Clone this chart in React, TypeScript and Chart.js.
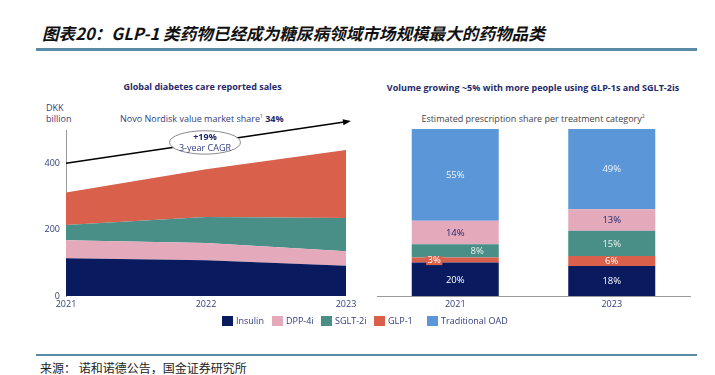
import React, { useEffect, useRef } from 'react';
import { Chart, registerables } from 'chart.js';

Chart.register(...registerables);

// ---------- data ----------
const years = ['2021', '2022', '2023'];
const insulinSales = [114, 108, 91];
const dpp4Sales = [54, 52, 44];
const sglt2Sales = [46, 78, 100];
const glp1Sales = [98, 144, 205];
const trendLine = [400, 462, 525];
const salesTicks = [0, 200, 400];

const shareYears = ['2021', '2023'];
const insulinShare = [20, 18];
const glp1Share = [3, 6];
const sglt2Share = [8, 15];
const dpp4Share = [14, 13];
const oadShare = [55, 49];

const legendNames = ['Insulin', 'DPP-4i', 'SGLT-2i', 'GLP-1', 'Traditional OAD'];

// ---------- styles ----------
const NAVY = '#0a1a5e';
const PINK = '#e5a9bc';
const TEAL = '#4a8f87';
const ORANGE = '#d9614b';
const BLUE = '#5b97d8';
const TEXT_NAVY = '#34407f';
const FONT = '"Open Sans", "Noto Sans", sans-serif';
const legendColors = [NAVY, PINK, TEAL, ORANGE, BLUE];
const legendLefts = [222, 272, 321, 374, 427];

const trendDecor = {
  id: 'trendDecor',
  afterDatasetsDraw(chart: any) {
    const pts = chart.getDatasetMeta(0).data;
    if (!pts || pts.length < 2) return;
    const ctx = chart.ctx;
    const a = pts[pts.length - 2];
    const b = pts[pts.length - 1];
    const ang = Math.atan2(b.y - a.y, b.x - a.x);
    ctx.save();
    ctx.fillStyle = '#000';
    ctx.translate(b.x + 1, b.y);
    ctx.rotate(ang);
    ctx.beginPath();
    ctx.moveTo(4, 0);
    ctx.lineTo(-4, -3);
    ctx.lineTo(-4, 3);
    ctx.closePath();
    ctx.fill();
    ctx.restore();

    const f = pts[0];
    const cx = (f.x + b.x) / 2 - 1;
    const cy = (f.y + b.y) / 2;
    ctx.save();
    ctx.beginPath();
    ctx.ellipse(cx, cy, 35.5, 11.7, 0, 0, Math.PI * 2);
    ctx.fillStyle = '#fff';
    ctx.fill();
    ctx.strokeStyle = '#8a8a8a';
    ctx.lineWidth = 1;
    ctx.stroke();
    ctx.textAlign = 'center';
    ctx.textBaseline = 'middle';
    ctx.fillStyle = '#1f2b6b';
    ctx.font = `bold 9px ${FONT}`;
    ctx.fillText('+19%', cx, cy - 5.5);
    ctx.font = `9px ${FONT}`;
    ctx.fillStyle = TEXT_NAVY;
    ctx.fillText('3-year CAGR', cx, cy + 5.5);
    ctx.restore();
  },
};

const labelColors = ['#ffffff', '#ffffff', '#e8f2ef', '#1d2a6e', '#eef4fb'];
const labelTweaks: Record<string, { dx: number; box?: string }> = {
  '1-0': { dx: -21, box: ORANGE },
  '2-0': { dx: 22 },
};

const barLabels = {
  id: 'barLabels',
  afterDatasetsDraw(chart: any) {
    const ctx = chart.ctx;
    ctx.save();
    ctx.font = `9.5px ${FONT}`;
    ctx.textAlign = 'center';
    ctx.textBaseline = 'middle';
    chart.data.datasets.forEach((ds: any, di: number) => {
      const meta = chart.getDatasetMeta(di);
      meta.data.forEach((el: any, i: number) => {
        const v = ds.data[i];
        const tw = labelTweaks[`${di}-${i}`];
        const x = el.x + (tw ? tw.dx : 0);
        const top = Math.max(el.y, chart.chartArea.top);
        const y = (top + el.base) / 2 + 0.5;
        const txt = `${v}%`;
        if (tw && tw.box) {
          const w = ctx.measureText(txt).width + 3;
          ctx.fillStyle = tw.box;
          ctx.fillRect(x - w / 2, y - 4.5, w, 9);
        }
        ctx.fillStyle = labelColors[di];
        ctx.fillText(txt, x, y);
      });
    });
    ctx.restore();
  },
};

function SalesChart() {
  const ref = useRef<HTMLCanvasElement>(null);
  useEffect(() => {
    if (!ref.current) return;
    const tickFont = { family: FONT, size: 9 };
    const chart = new Chart(ref.current, {
      type: 'line',
      data: {
        labels: years,
        datasets: [
          { label: 'trend', data: trendLine, stack: 'trend', fill: false, borderColor: '#000', borderWidth: 1.5, pointRadius: 0, clip: false } as any,
          { label: 'Insulin', data: insulinSales, fill: 'origin', backgroundColor: NAVY, borderWidth: 0, pointRadius: 0 },
          { label: 'DPP-4i', data: dpp4Sales, fill: '-1', backgroundColor: PINK, borderWidth: 0, pointRadius: 0 },
          { label: 'SGLT-2i', data: sglt2Sales, fill: '-1', backgroundColor: TEAL, borderWidth: 0, pointRadius: 0 },
          { label: 'GLP-1', data: glp1Sales, fill: '-1', backgroundColor: ORANGE, borderWidth: 0, pointRadius: 0 },
        ],
      },
      options: {
        animation: false,
        responsive: false,
        maintainAspectRatio: false,
        layout: { padding: { top: 30, right: 19, left: 0, bottom: 0 } },
        plugins: { legend: { display: false }, tooltip: { enabled: false } },
        elements: { line: { tension: 0 } },
        scales: {
          x: {
            type: 'category',
            offset: false,
            grid: { display: false, drawTicks: false },
            border: { display: false },
            ticks: { color: TEXT_NAVY, font: tickFont, padding: 3, maxRotation: 0, autoSkip: false },
            afterFit(s: any) { s.height = 24; },
          },
          y: {
            stacked: true,
            min: 0,
            max: 500,
            grid: { display: false, drawTicks: false },
            border: { display: true, color: '#9a9a9a', width: 1 },
            ticks: { color: TEXT_NAVY, font: tickFont, padding: 6 },
            afterBuildTicks(s: any) { s.ticks = salesTicks.map((v) => ({ value: v })); },
            afterFit(s: any) { s.width = 46; },
          },
        },
      } as any,
      plugins: [trendDecor],
    });
    return () => chart.destroy();
  }, []);
  return <canvas ref={ref} width={345} height={220} style={{ position: 'absolute', left: 20, top: 100, width: 345, height: 220 }} />;
}

function ShareChart() {
  const ref = useRef<HTMLCanvasElement>(null);
  useEffect(() => {
    if (!ref.current) return;
    const common = { barPercentage: 0.556, categoryPercentage: 1, borderWidth: 0 };
    const chart = new Chart(ref.current, {
      type: 'bar',
      data: {
        labels: shareYears,
        datasets: [
          { label: 'Insulin', data: insulinShare, backgroundColor: NAVY, ...common },
          { label: 'GLP-1', data: glp1Share, backgroundColor: ORANGE, ...common },
          { label: 'SGLT-2i', data: sglt2Share, backgroundColor: TEAL, ...common },
          { label: 'DPP-4i', data: dpp4Share, backgroundColor: PINK, ...common },
          { label: 'Traditional OAD', data: oadShare, backgroundColor: BLUE, ...common },
        ],
      },
      options: {
        animation: false,
        responsive: false,
        maintainAspectRatio: false,
        layout: { padding: { top: 29, right: 20, left: 7, bottom: 0 } },
        plugins: { legend: { display: false }, tooltip: { enabled: false } },
        scales: {
          x: {
            stacked: true,
            grid: { display: false, drawTicks: false },
            border: { display: true, color: '#9a9a9a', width: 1 },
            ticks: { color: TEXT_NAVY, font: { family: FONT, size: 9 }, padding: 3 },
            afterFit(s: any) { s.height = 24; },
          },
          y: { stacked: true, display: false, min: 0, max: 100 },
        },
      } as any,
      plugins: [barLabels],
    });
    return () => chart.destroy();
  }, []);
  return <canvas ref={ref} width={340} height={220} style={{ position: 'absolute', left: 370, top: 100, width: 340, height: 220 }} />;
}

const abs = (left: number, cy: number, extra: React.CSSProperties = {}): React.CSSProperties => ({
  position: 'absolute',
  left,
  top: cy - 6,
  lineHeight: '12px',
  whiteSpace: 'nowrap',
  fontFamily: FONT,
  ...extra,
});

export default function App() {
  return (
    <div style={{ position: 'absolute', left: 0, top: 0, width: 715, height: 375, background: '#fff', overflow: 'hidden' }}>
      <div style={{ position: 'absolute', left: 42, top: 23, lineHeight: '20px', fontSize: 16.6, fontWeight: 'bold', fontStyle: 'italic', fontFamily: '"Noto Sans CJK SC", sans-serif', color: '#111', whiteSpace: 'nowrap' }}>
        图表20：GLP-1 类药物已经成为糖尿病领域市场规模最大的药物品类
      </div>
      <div style={{ position: 'absolute', left: 36, top: 48, width: 661, height: 3, background: '#5b8aa6' }} />

      <div style={abs(0, 87, { width: 405, textAlign: 'center', fontSize: 9, fontWeight: 'bold', color: '#1f2b6b' })}>Global diabetes care reported sales</div>
      <div style={abs(46, 108, { fontSize: 9, color: TEXT_NAVY })}>DKK</div>
      <div style={abs(46, 119, { fontSize: 9, color: TEXT_NAVY })}>billion</div>
      <div style={abs(120, 119, { fontSize: 9, color: TEXT_NAVY })}>
        Novo Nordisk value market share<sup style={{ fontSize: 5, verticalAlign: 'super', lineHeight: 0 }}>1</sup> <b style={{ color: '#1f2b6b' }}>34%</b>
      </div>

      <div style={abs(333, 88, { width: 400, textAlign: 'center', fontSize: 9, fontWeight: 'bold', color: '#1f2b6b' })}>Volume growing ~5% with more people using GLP-1s and SGLT-2is</div>
      <div style={abs(333, 119, { width: 400, textAlign: 'center', fontSize: 9, color: '#444' })}>
        Estimated prescription share per treatment category<sup style={{ fontSize: 5, verticalAlign: 'super', lineHeight: 0 }}>2</sup>
      </div>

      <SalesChart />
      <ShareChart />

      {legendNames.map((n, i) => (
        <div key={n} style={abs(legendLefts[i], 321, { display: 'flex', alignItems: 'center', fontSize: 9, color: TEXT_NAVY })}>
          <span style={{ display: 'inline-block', width: 11, height: 10, background: legendColors[i], marginRight: 3 }} />
          {n}
        </div>
      ))}

      <div style={{ position: 'absolute', left: 36, top: 354, width: 661, height: 2, background: '#5b8aa6' }} />
      <div style={{ position: 'absolute', left: 40, top: 361, lineHeight: '14px', fontSize: 12, fontFamily: '"Noto Sans CJK SC", sans-serif', color: '#222', whiteSpace: 'nowrap' }}>
        来源：&nbsp;诺和诺德公告，国金证券研究所
      </div>
    </div>
  );
}
